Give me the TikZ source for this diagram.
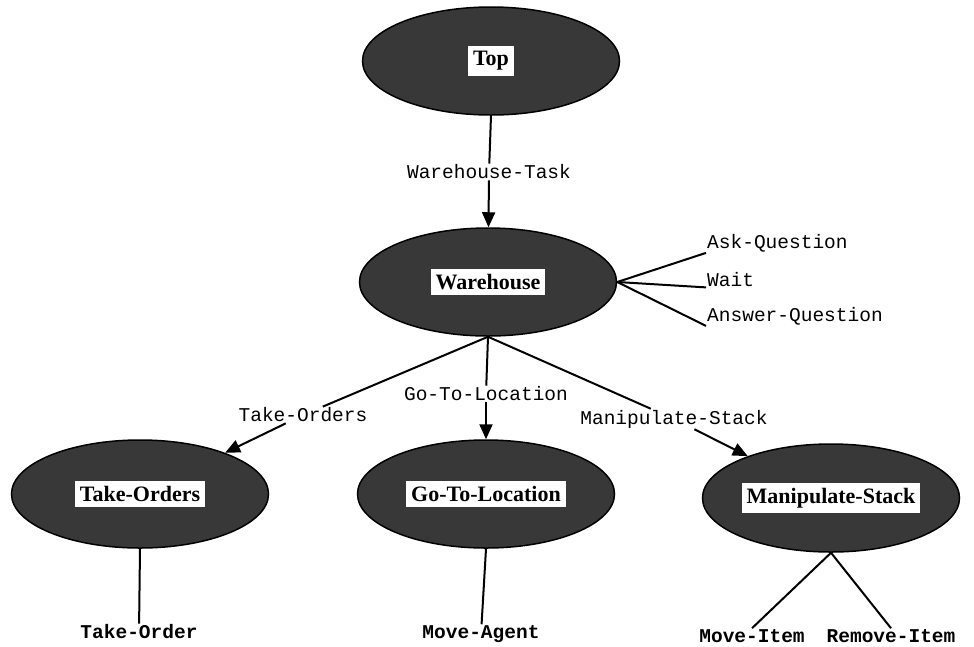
\documentclass[tikz,border=0pt]{standalone}
\usepackage{fontspec}
\setmainfont{Liberation Serif}
\setmonofont{Liberation Mono}
\usetikzlibrary{shapes.geometric,arrows.meta}

\newcommand\goalbox[1]{{\setlength{\fboxsep}{5pt}\colorbox{white}{\fontsize{22}{26}\selectfont\bfseries #1}}}

\begin{document}
\begin{tikzpicture}[x=1pt,y=-1pt]
    \tikzstyle{every node}+=[inner sep=1pt]
    \tikzstyle{goal}=[ellipse, draw=black, line width=1.5pt, fill=black!78, minimum width=257pt, minimum height=108pt, inner sep=0pt]
    \tikzstyle{arc}=[font=\ttfamily\fontsize{19.5}{24}\selectfont]
    \tikzstyle{leaf}=[font=\ttfamily\bfseries\fontsize{19.5}{24}\selectfont]
    \tikzstyle{link}=[line width=2pt]
    \tikzstyle{arr}=[line width=2pt, -{Triangle[length=15pt,width=13pt]}]
    \useasboundingbox (0,0) rectangle (974,646);
    \node [goal] (top) at (491,61) {\goalbox{Top}};
    \node [arc] (whtask) at (489,172) {Warehouse-Task};
    \node [goal] (wh) at (488,282) {\goalbox{Warehouse}};
    \node [arc, anchor=base west] (ask) at (706,248) {Ask-Question};
    \node [arc, anchor=base west] (wait) at (706,286) {Wait};
    \node [arc, anchor=base west] (answer) at (706,321) {Answer-Question};
    \node [arc] (lto) at (303,415) {Take-Orders};
    \node [arc] (lgo) at (486,394) {Go-To-Location};
    \node [arc] (lms) at (674,419) {Manipulate-Stack};
    \node [goal] (to) at (140,494) {\goalbox{Take-Orders}};
    \node [goal] (go) at (486,494) {\goalbox{Go-To-Location}};
    \node [goal] (ms) at (831,498) {\goalbox{Manipulate-Stack}};
    \node [leaf] (takeorder) at (139,632) {Take-Order};
    \node [leaf] (moveagent) at (481,634) {Move-Agent};
    \node [leaf] (moveitem) at (752,636) {Move-Item};
    \node [leaf] (removeitem) at (891,636) {Remove-Item};
    % top level
    \draw [link] (top.south) -- (whtask);
    \draw [arr] (whtask) -- (wh);
    % communication actions
    \draw [link] (wh.east) -- (ask.south west);
    \draw [link] (wh.east) -- (wait.south west);
    \draw [link] (wh.east) -- (answer.south west);
    % subtasks
    \draw [link] (wh.south) -- (lto);
    \draw [arr] (lto) -- (to);
    \draw [link] (wh.south) -- (lgo);
    \draw [arr] (lgo) -- (go);
    \draw [link] (wh.south) -- (lms);
    \draw [arr] (lms) -- (ms);
    % primitive actions
    \draw [link] (to.south) -- (takeorder);
    \draw [link] (go.south) -- (moveagent);
    \draw [link] (ms.south) -- (moveitem.north);
    \draw [link] (ms.south) -- (removeitem.north);
\end{tikzpicture}
\end{document}
